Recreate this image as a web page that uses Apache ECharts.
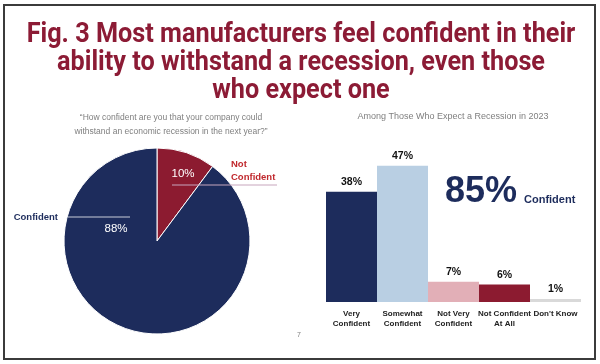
<!DOCTYPE html>
<html>
<head>
<meta charset="utf-8">
<script src="https://cdn.jsdelivr.net/npm/echarts@6/dist/echarts.min.js"></script>
<style>
html,body{margin:0;padding:0;background:#fff;}
#chart{width:600px;height:364px;}
</style>
</head>
<body>
<div id="chart"></div>
<script>
// ---- data ----
var titleLines = ['Fig. 3 Most manufacturers feel confident in their', 'ability to withstand a recession, even those', 'who expect one'];
var pieQuestion = ['\u201CHow confident are you that your company could', 'withstand an economic recession in the next year?\u201D'];
var pieNames = ['Not Confident', 'Confident'];
var pieValues = [10, 88];
var barTitle = 'Among Those Who Expect a Recession in 2023';
var barCategories = ['Very Confident', 'Somewhat Confident', 'Not Very Confident', 'Not Confident At All', "Don't Know"];
var barTickLabels = ['Very\nConfident', 'Somewhat\nConfident', 'Not Very\nConfident', 'Not Confident\nAt All', "Don't Know"];
var barValues = [38, 47, 7, 6, 1];
var headline = '85%';
var headlineLabel = 'Confident';
var pageNumber = '7';

// ---- styles ----
var NAVY = '#1D2C5C';
var RED = '#8C1B30';
var barColors = [NAVY, '#B9CFE3', '#E2AFB7', RED, '#D9D9D9'];
var pieColors = [RED, NAVY];
var pieCenter = [157, 241];
var pieR = 93;

var chart = echarts.init(document.getElementById('chart'), null, {renderer: 'canvas'});

var pctPos = {0: [183, 174], 1: [116, 229]};
var namePos = {
  0: {x: 231, y: 171, align: 'left', line: [[172, 185], [277, 185], [277, 185]]},
  1: {x: 58, y: 217, align: 'right', line: [[68, 217], [130, 217], [130, 217]]}
};

var option = {
  animation: false,
  backgroundColor: '#fff',
  graphic: [
    {type: 'rect', shape: {x: 4, y: 5, width: 591, height: 354}, style: {fill: 'none', stroke: '#3b3b3b', lineWidth: 2}, z: 10},
    {type: 'text', x: 301, y: 21, scaleX: 0.935, style: {text: titleLines.join('\n'), font: 'bold 27px Roboto', fill: '#8C1B35', textAlign: 'center', textVerticalAlign: 'top', lineHeight: 28}},
    {type: 'text', x: 171, y: 111, style: {text: pieQuestion.join('\n'), font: '8.5px "Liberation Sans"', fill: '#7F7F7F', textAlign: 'center', textVerticalAlign: 'top', lineHeight: 13.5}},
    {type: 'text', x: 453, y: 112, style: {text: barTitle, font: '9px "Liberation Sans"', fill: '#7F7F7F', textAlign: 'center', textVerticalAlign: 'top'}},
    {type: 'text', x: 445, y: 192, style: {text: headline, font: 'bold 36px "Liberation Sans"', fill: NAVY, textAlign: 'left', textVerticalAlign: 'middle'}},
    {type: 'text', x: 524, y: 200, style: {text: headlineLabel, font: 'bold 11px "Liberation Sans"', fill: NAVY, textAlign: 'left', textVerticalAlign: 'middle'}},
    {type: 'text', x: 299, y: 335, style: {text: pageNumber, font: '7px "Liberation Sans"', fill: '#808080', textAlign: 'center', textVerticalAlign: 'middle'}}
  ],
  grid: {left: 326, width: 255, top: 157, height: 145},
  xAxis: {
    type: 'category', data: barCategories,
    axisLine: {show: false}, axisTick: {show: false},
    axisLabel: {interval: 0, margin: 7, fontSize: 8, fontWeight: 'bold', color: '#222', lineHeight: 10, fontFamily: 'Liberation Sans',
      formatter: function (v, i) { return barTickLabels[i]; }}
  },
  yAxis: {type: 'value', min: 0, max: 50, show: false, splitLine: {show: false}},
  series: [
    {
      type: 'pie', center: pieCenter, radius: pieR, startAngle: 90, clockwise: true,
      data: pieNames.map(function (n, i) { return {name: n, value: pieValues[i], itemStyle: {color: pieColors[i]}}; }),
      itemStyle: {borderColor: '#fff', borderWidth: 1},
      label: {show: true, position: 'inside', formatter: '{c}%', color: '#fff', fontSize: 11.5, fontFamily: 'Liberation Sans'},
      labelLayout: function (p) { var q = pctPos[p.dataIndex]; return {x: q[0], y: q[1], align: 'center', verticalAlign: 'middle'}; },
      silent: true
    },
    {
      type: 'pie', center: pieCenter, radius: pieR, startAngle: 90, clockwise: true,
      data: pieNames.map(function (n, i) { return {name: n, value: pieValues[i]}; }),
      itemStyle: {color: 'rgba(0,0,0,0)'},
      label: {show: true, position: 'outside', fontSize: 9.5, fontWeight: 'bold', fontFamily: 'Liberation Sans', lineHeight: 13,
        formatter: function (p) { return p.dataIndex === 0 ? p.name.replace(' ', '\n') : p.name; },
        color: function () { return NAVY; }},
      labelLine: {show: true, length: 5, length2: 5, lineStyle: {width: 1}},
      labelLayout: function (p) {
        var q = namePos[p.dataIndex];
        return {x: q.x, y: q.y, align: q.align, verticalAlign: 'middle', labelLinePoints: q.line};
      },
      silent: true, z: 5
    },
    {
      type: 'bar', data: barValues.map(function (v, i) { return {value: v, itemStyle: {color: barColors[i]}}; }),
      barCategoryGap: '0%',
      label: {show: true, position: 'top', distance: 4, formatter: '{c}%', fontSize: 10.5, fontWeight: 'bold', color: '#111', fontFamily: 'Liberation Sans'},
      silent: true
    }
  ]
};
// per-item label colors / lines for the name pie
option.series[1].data[0].label = {color: '#C0282D'};
option.series[1].data[0].labelLine = {lineStyle: {color: '#C7A6BD'}};
option.series[1].data[1].label = {color: NAVY};
option.series[1].data[1].labelLine = {lineStyle: {color: '#C9CCD8'}};
chart.setOption(option);
</script>
</body>
</html>
